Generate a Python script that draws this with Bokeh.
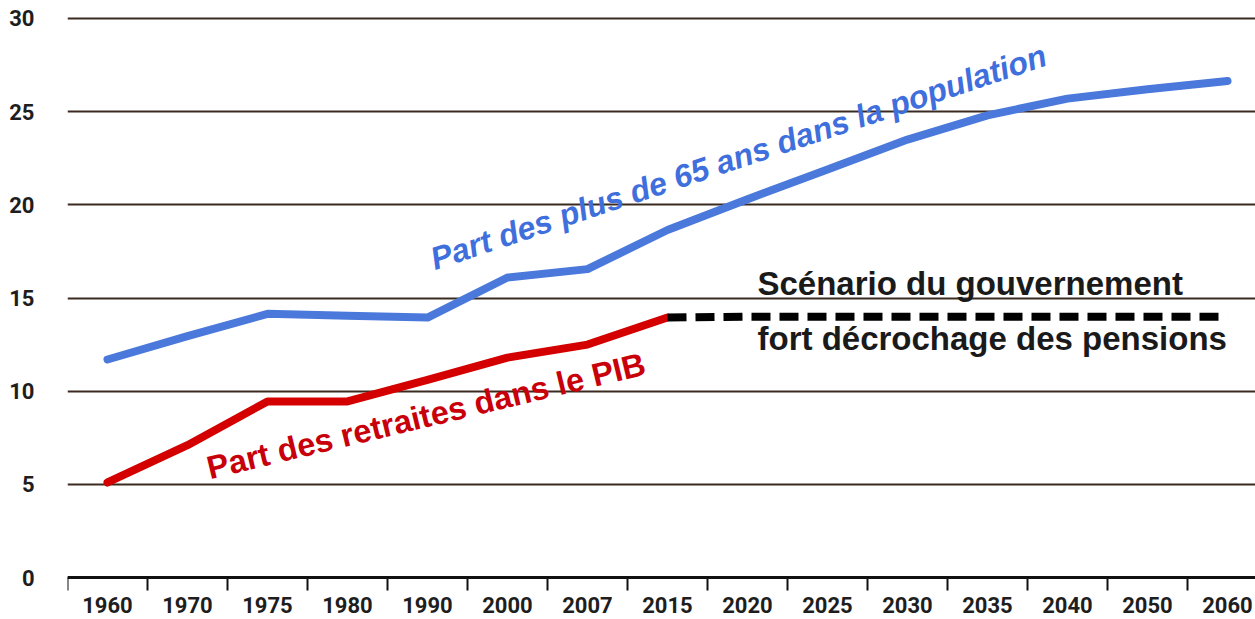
import math
from bokeh.plotting import figure
from bokeh.models import Range1d, FixedTicker, LinearAxis, Label
from bokeh.embed import file_html
from bokeh.resources import INLINE

# ---- data ----
years = ["1960", "1970", "1975", "1980", "1990", "2000", "2007", "2015",
         "2020", "2025", "2030", "2035", "2040", "2050", "2060"]
pop65 = [11.7, 12.95, 14.15, 14.05, 13.95, 16.1, 16.55, 18.65,
         20.3, 21.9, 23.5, 24.8, 25.7, 26.2, 26.65]
pension_years = years[:8]
pensions = [5.1, 7.1, 9.45, 9.45, 10.6, 11.8, 12.5, 13.95]
scenario_years = years[7:]
scenario = [13.95, 14.0, 14.0, 14.0, 14.0, 14.0, 14.0, 14.0]
y_ticks = [0, 5, 10, 15, 20, 25, 30]

# category centres / boundaries on a numeric scale
pos = {y: i + 0.5 for i, y in enumerate(years)}
centres = [pos[y] for y in years]
boundaries = list(range(len(years)))

BLUE = "#4a79db"
RED = "#d40000"
GRID = "#3b2a20"
LABEL_FONT = "Roboto"
TEXT_FONT = "Liberation Sans"

p = figure(width=1255, height=619, output_backend="svg", toolbar_location=None,
           x_range=Range1d(0, 14.85), y_range=Range1d(-2.254, 30.966),
           x_axis_location=None,
           min_border_left=67, min_border_right=0, min_border_top=0, min_border_bottom=0)
p.outline_line_color = None
p.background_fill_color = "white"
p.border_fill_color = "white"

p.xgrid.visible = False
p.ygrid.ticker = FixedTicker(ticks=y_ticks)
p.ygrid.grid_line_color = GRID
p.ygrid.grid_line_width = 2

yax = p.yaxis[0]
yax.ticker = FixedTicker(ticks=y_ticks)
yax.axis_line_color = None
yax.major_tick_line_color = None
yax.minor_tick_line_color = None
yax.major_tick_out = 0
yax.major_tick_in = 0
yax.major_label_standoff = 33
yax.major_label_text_font = LABEL_FONT
yax.major_label_text_font_style = "bold"
yax.major_label_text_font_size = "22px"
yax.major_label_text_color = "#1e1e1e"

xax = LinearAxis(fixed_location=0,
                 ticker=FixedTicker(ticks=centres, minor_ticks=boundaries),
                 major_label_overrides={pos[y]: y for y in years})
xax.axis_line_color = "#111111"
xax.axis_line_width = 3
xax.major_tick_in = 0
xax.major_tick_out = 0
xax.major_tick_line_color = None
xax.minor_tick_in = 0
xax.minor_tick_out = 13
xax.minor_tick_line_color = "#111111"
xax.minor_tick_line_width = 2
xax.major_label_standoff = 6
xax.major_label_text_font = LABEL_FONT
xax.major_label_text_font_style = "bold"
xax.major_label_text_font_size = "22px"
xax.major_label_text_color = "#1e1e1e"
p.add_layout(xax, "below")

# ---- series ----
p.line([pos[y] for y in years], pop65, line_color=BLUE, line_width=8,
       line_cap="round", line_join="round")
p.line([pos[y] for y in pension_years], pensions, line_color=RED, line_width=8,
       line_cap="round", line_join="round")
p.line([pos[y] for y in scenario_years], scenario, line_color="#000000", line_width=8,
       line_dash="19 9", line_cap="butt")

# ---- annotations ----
p.add_layout(Label(x=4.55, y=17.05, text="Part des plus de 65 ans dans la population",
                   angle=math.radians(18.5), text_font=TEXT_FONT, text_font_style="bold italic",
                   text_font_size="32px", text_color="#3f6fdc", text_baseline="alphabetic"))
p.add_layout(Label(x=1.75, y=5.85, text="Part des retraites dans le PIB",
                   angle=math.radians(13.5), text_font=TEXT_FONT, text_font_style="bold",
                   text_font_size="32.5px", text_color="#c8000a", text_baseline="alphabetic"))
p.add_layout(Label(x=8.625, y=15.8, text="Scénario du gouvernement",
                   text_font=TEXT_FONT, text_font_style="bold",
                   text_font_size="33px", text_color="#1a1a1a", text_baseline="alphabetic"))
p.add_layout(Label(x=8.625, y=12.85, text="fort décrochage des pensions",
                   text_font=TEXT_FONT, text_font_style="bold",
                   text_font_size="33px", text_color="#1a1a1a", text_baseline="alphabetic"))

open("out.html", "w").write(file_html(p, INLINE))
